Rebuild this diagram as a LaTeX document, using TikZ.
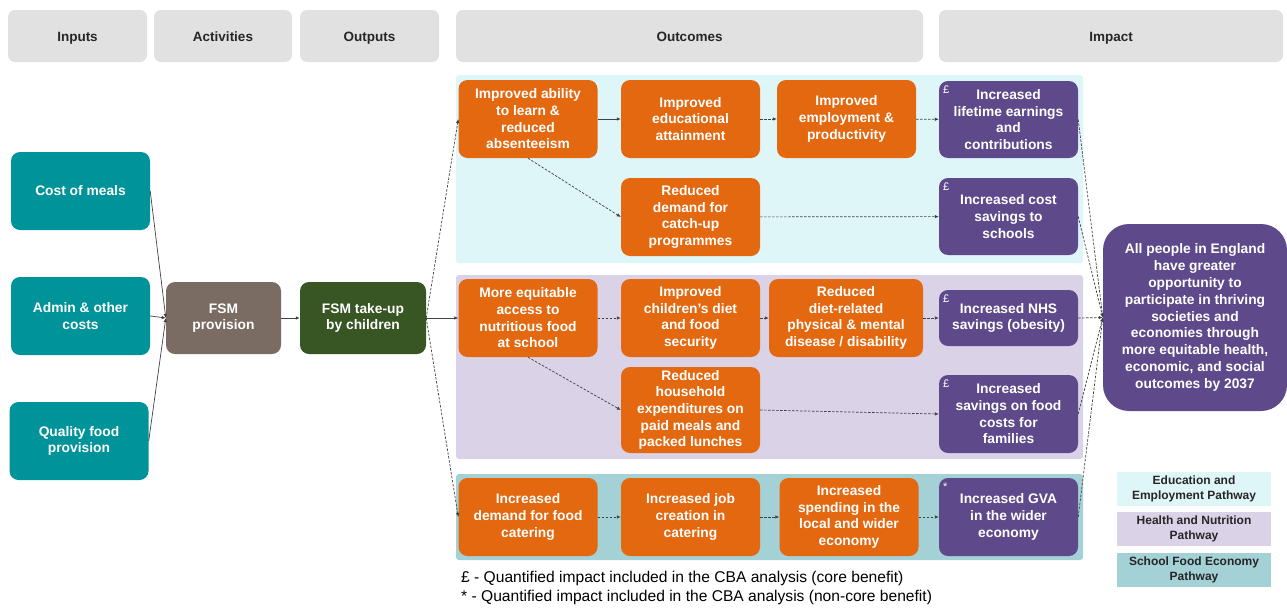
\documentclass[tikz,border=0pt]{standalone}
\usepackage{fontspec}
\setmainfont{Liberation Sans}
\usetikzlibrary{arrows.meta}
\definecolor{inteal}{HTML}{01939A}
\definecolor{provbrown}{HTML}{7B6C63}
\definecolor{takegreen}{HTML}{375623}
\definecolor{outorange}{HTML}{E3680F}
\definecolor{imppurple}{HTML}{5E4A8B}
\definecolor{headgray}{HTML}{E1E1E1}
\definecolor{edubg}{HTML}{DFF6F9}
\definecolor{healthbg}{HTML}{DAD3E8}
\definecolor{econbg}{HTML}{A3D1D5}

\tikzset{
  box/.style={rounded corners=9pt, inner sep=0pt, align=center, text=white,
    font=\fontsize{13.8}{16.7}\selectfont\bfseries,
    minimum width=139pt, minimum height=78pt},
  head/.style={box, fill=headgray, text=black!85, minimum height=52pt, rounded corners=7pt,
    font=\fontsize{13.5}{16}\selectfont\bfseries, text height=12pt, text depth=1pt},
  outc/.style={box, fill=outorange},
  imp/.style={box, fill=imppurple},
  key/.style={inner sep=0pt, align=center, text=black!85, minimum width=154pt, minimum height=34pt,
    font=\fontsize{12}{15}\selectfont\bfseries},
  tag/.style={anchor=north west, inner sep=0pt, text=white, font=\fontsize{11}{11}\selectfont},
  arr/.style={draw=black!75, line width=.7pt, -{Latex[length=4pt,width=3.5pt]}},
  dsh/.style={arr, dash pattern=on 2.5pt off 1.5pt},
}

\begin{document}
\begin{tikzpicture}[x=1pt, y=-1pt]
  \useasboundingbox (0,0) rectangle (1287,608);
  % pathway bands
  \fill [edubg, rounded corners=3pt] (456,75) rectangle (1083,263);
  \fill [healthbg, rounded corners=3pt] (456,275) rectangle (1083,459);
  \fill [econbg, rounded corners=3pt] (456,474) rectangle (1083,560);

  \node [head] (hin) at (77.5,36) {Inputs};
  \node [head, minimum width=138pt] (hact) at (223,36) {Activities};
  \node [head] (hout) at (369.5,36) {Outputs};
  \node [head, minimum width=467pt] (hoc) at (689.5,36) {Outcomes};
  \node [head, minimum width=344pt] (him) at (1111,36) {Impact};

  \node [box, fill=inteal] (cost) at (80.5,191) {Cost of meals};
  \node [box, fill=inteal] (admin) at (80.5,316) {Admin \& other\\costs};
  \node [box, fill=inteal] (qual) at (79,441) {Quality food\\provision};
  \node [box, fill=provbrown, minimum width=115pt, minimum height=72pt] (prov) at (223.5,318) {FSM\\provision};
  \node [box, fill=takegreen, minimum width=126pt, minimum height=72pt] (take) at (363,318) {FSM take-up\\by children};

  % education and employment
  \node [outc] (a1) at (528,119) {Improved ability\\to learn \&\\reduced\\absenteeism};
  \node [outc] (a2) at (690.5,119) {Improved\\educational\\attainment};
  \node [outc] (a3) at (846.5,119) {Improved\\employment \&\\productivity};
  \node [outc] (a4) at (690.5,217) {Reduced\\demand for\\catch-up\\programmes};
  \node [imp, minimum height=77pt] (p1) at (1008.5,119.5) {Increased\\lifetime earnings\\and\\contributions};
  \node [imp, minimum height=77pt] (p2) at (1008.5,216.5) {Increased cost\\savings to\\schools};

  % health and nutrition
  \node [outc] (b1) at (528,318) {More equitable\\access to\\nutritious food\\at school};
  \node [outc] (b2) at (690.5,318) {Improved\\children’s diet\\and food\\security};
  \node [outc, minimum width=154pt] (b3) at (846,318) {Reduced\\diet-related\\physical \& mental\\disease / disability};
  \node [outc, minimum height=86pt] (b4) at (690.5,410) {Reduced\\household\\expenditures on\\paid meals and\\packed lunches};
  \node [imp, minimum height=56pt] (p3) at (1008.5,318) {Increased NHS\\savings (obesity)};
  \node [imp] (p4) at (1008.5,414) {Increased\\savings on food\\costs for\\families};

  % school food economy
  \node [outc] (c1) at (528,517) {Increased\\demand for food\\catering};
  \node [outc] (c2) at (690.5,517) {Increased job\\creation in\\catering};
  \node [outc] (c3) at (849,517) {Increased\\spending in the\\local and wider\\economy};
  \node [imp] (p5) at (1008.5,517) {Increased GVA\\in the wider\\economy};

  \node [imp, minimum width=184pt, minimum height=187pt, rounded corners=26pt,
    font=\fontsize{13.8}{16.8}\selectfont\bfseries] (goal) at (1195,317.5)
    {All people in England\\have greater\\opportunity to\\participate in thriving\\societies and\\economies through\\more equitable health,\\economic, and social\\outcomes by 2037};

  \foreach \p/\t in {p1/£,p2/£,p3/£,p4/£,p5/*}
    \node [tag] (t\p) at ([shift={(4,5)}]\p.north west) {\t};

  \foreach \n in {cost,admin,qual} \draw [arr] (\n.east) -- (prov.west);
  \draw [arr] (prov) -- (take);
  \draw [dsh] (take.east) -- (a1.west);
  \draw [arr] (take) -- (b1);
  \draw [dsh] (take.east) -- (c1.west);

  \draw [arr] (a1) -- (a2);
  \draw [dsh] (a2) -- (a3);
  \draw [dsh] (a3) -- (p1);
  \draw [dsh] (a1.south) -- (a4.west);
  \draw [dsh] (a4) -- (p2);

  \draw [dsh] (b1) -- (b2);
  \draw [dsh] (b2) -- (b3);
  \draw [dsh] (b3) -- (p3);
  \draw [dsh] (b1.south) -- (b4.west);
  \draw [dsh] (b4.east) -- (p4.west);

  \draw [dsh] (c1) -- (c2);
  \draw [dsh] (c2) -- (c3);
  \draw [dsh] (c3) -- (p5);

  \foreach \p in {p1,p2,p3,p4,p5} \draw [dsh] (\p.east) -- (goal.west);

  % notes and key
  \node [anchor=west, inner sep=0pt, font=\fontsize{15.6}{18}\selectfont] (note1) at (461,578)
    {£ - Quantified impact included in the CBA analysis (core benefit)};
  \node [anchor=west, inner sep=0pt, font=\fontsize{15.6}{18}\selectfont] (note2) at (461,597)
    {* - Quantified impact included in the CBA analysis (non-core benefit)};
  \node [key, fill=edubg] (key1) at (1194,489) {Education and\\Employment Pathway};
  \node [key, fill=healthbg] (key2) at (1194,529) {Health and Nutrition\\Pathway};
  \node [key, fill=econbg] (key3) at (1194,569.5) {School Food Economy\\Pathway};
\end{tikzpicture}
\end{document}
